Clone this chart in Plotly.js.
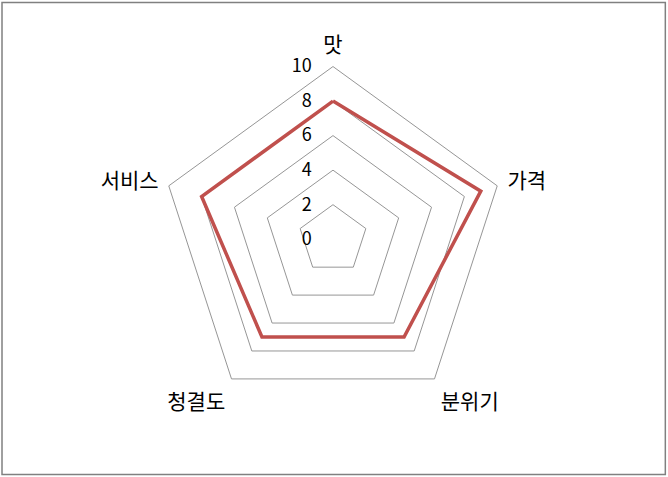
<!DOCTYPE html>
<html>
<head>
<meta charset="utf-8">
<script src="https://cdn.plot.ly/plotly-3.0.1.min.js"></script>
<style>
  body { margin: 0; background: #fff; }
  #chart { width: 668px; height: 477px; }
</style>
</head>
<body>
<div id="chart"></div>
<script>
// categories around the radar, clockwise from the top
var categories = ['맛', '가격', '분위기', '청결도', '서비스'];
// score for each category
var scores = [8, 9, 7, 7, 8];
// radial tick values
var tickValues = [0, 2, 4, 6, 8, 10];

// close the loop so the line returns to the first point
var theta = categories.concat([categories[0]]);
var r = scores.concat([scores[0]]);

// labels are centred on the axis, so pad them on the right to sit them left of it
var pad = '\u2003';

var trace = {
    type: 'scatterpolar',
    mode: 'lines',
    r: r,
    theta: theta,
    line: { color: '#c0504d', width: 3.5 },
    hoverinfo: 'none',
    showlegend: false
};

var layout = {
    width: 668,
    height: 477,
    margin: { l: 0, r: 0, t: 0, b: 0 },
    paper_bgcolor: '#ffffff',
    font: { family: '"Noto Sans CJK KR", "Noto Sans", sans-serif', color: '#000000' },
    polar: {
        domain: { x: [0.24, 0.757], y: [0.136, 0.861] },
        bgcolor: '#ffffff',
        gridshape: 'linear',
        radialaxis: {
            range: [0, 10],
            tickvals: tickValues,
            ticktext: tickValues.map(function(v) { return v + pad; }),
            angle: 90,
            tickangle: 90,
            side: 'counterclockwise',
            showline: false,
            ticks: '',
            gridcolor: '#969696',
            gridwidth: 1,
            tickfont: { size: 18 }
        },
        angularaxis: {
            rotation: 90,
            direction: 'clockwise',
            showgrid: false,
            showline: true,
            linecolor: '#969696',
            linewidth: 1,
            ticks: 'outside',
            ticklen: 6,
            tickcolor: 'rgba(0,0,0,0)',
            tickfont: { size: 21 }
        }
    },
    shapes: [{
        type: 'rect',
        xref: 'paper', yref: 'paper',
        x0: 0.003, x1: 0.996, y0: 0.005, y1: 0.995,
        line: { color: '#808080', width: 1.5 }
    }]
};

Plotly.newPlot('chart', [trace], layout, { staticPlot: true });
</script>
</body>
</html>
